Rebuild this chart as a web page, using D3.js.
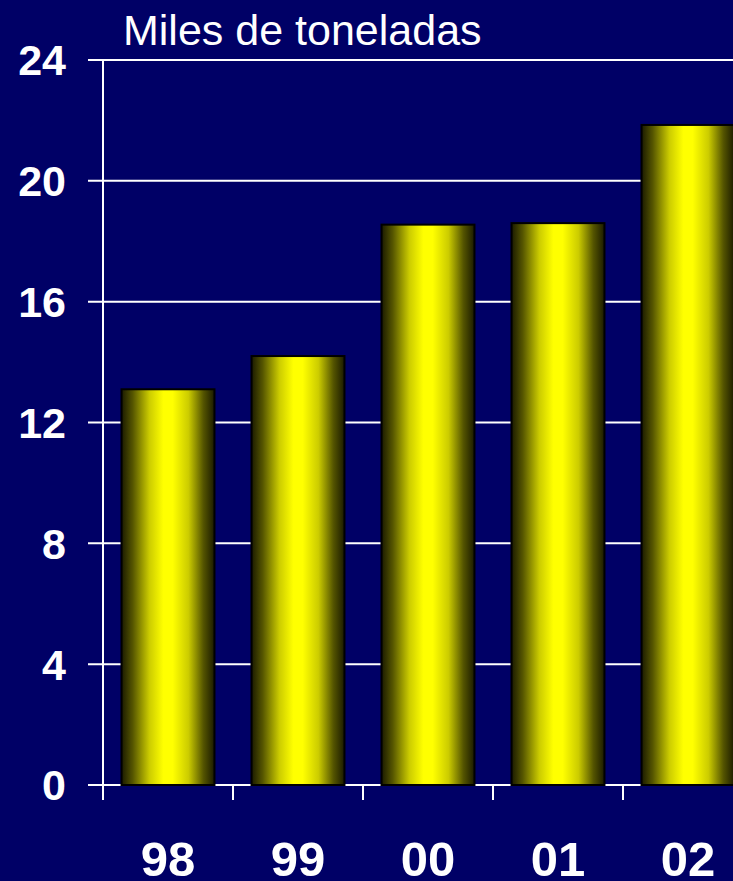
<!DOCTYPE html>
<html><head><meta charset="utf-8">
<script src="https://cdn.jsdelivr.net/npm/d3@7"></script>
<style>html,body{margin:0;padding:0;background:#000066;overflow:hidden}</style>
</head><body>
<script>
const categories = ["98","99","00","01","02"];
const values = [13.1, 14.2, 18.55, 18.6, 21.85];
const yTicks = [0,4,8,12,16,20,24];
const title = "Miles de toneladas";

const W = 733, H = 881;
const svg = d3.select("body").append("svg").attr("width", W).attr("height", H)
  .style("background", "#000066");

const x = d3.scaleBand().domain(categories).range([103, 753]).paddingInner(0.285).paddingOuter(0.1425);
const y = d3.scaleLinear().domain([0, 24]).range([785, 60]);

const defs = svg.append("defs");
const g = defs.append("linearGradient").attr("id","cyl").attr("x1","0").attr("x2","1").attr("y1","0").attr("y2","0");
[[0,"#1a1a00"],[0.12,"#555500"],[0.3,"#cccc00"],[0.45,"#ffff00"],[0.55,"#ffff00"],[0.72,"#cccc00"],[0.88,"#555500"],[1,"#1a1a00"]]
  .forEach(([o,c]) => g.append("stop").attr("offset", o).attr("stop-color", c));

// gridlines
svg.append("g").selectAll("line").data(yTicks).join("line")
  .attr("x1", 88).attr("x2", W).attr("y1", d => y(d)).attr("y2", d => y(d))
  .attr("stroke", "#ffffff").attr("stroke-width", 2);

// y-axis line
svg.append("line").attr("x1",103).attr("x2",103).attr("y1",y(24)).attr("y2",800)
  .attr("stroke","#ffffff").attr("stroke-width",2);

// x ticks
const step = x.step();
svg.append("g").selectAll("line").data(categories).join("line")
  .attr("x1", d => x(d) - step*x.paddingInner()/2).attr("x2", d => x(d) - step*x.paddingInner()/2)
  .attr("y1", y(0)).attr("y2", 800)
  .attr("stroke","#ffffff").attr("stroke-width",2);

// bars
svg.append("g").selectAll("rect").data(values).join("rect")
  .attr("x", (d,i) => x(categories[i]))
  .attr("width", x.bandwidth())
  .attr("y", d => y(d))
  .attr("height", d => y(0) - y(d))
  .attr("fill", "url(#cyl)")
  .attr("stroke", "#000000").attr("stroke-width", 2);

// y labels
svg.append("g").selectAll("text").data(yTicks).join("text")
  .attr("x", 66).attr("y", d => y(d)).attr("dy", "0.36em")
  .attr("text-anchor","end")
  .attr("font-family","Liberation Sans, Arial, sans-serif").attr("font-weight","bold")
  .attr("font-size", 43).attr("fill","#ffffff")
  .text(d => d);

// x labels
svg.append("g").selectAll("text").data(categories).join("text")
  .attr("x", d => x(d) + x.bandwidth()/2).attr("y", 876)
  .attr("text-anchor","middle")
  .attr("font-family","Liberation Sans, Arial, sans-serif").attr("font-weight","bold")
  .attr("font-size", 49).attr("fill","#ffffff")
  .text(d => d);

// title
svg.append("text").attr("x", 123).attr("y", 45)
  .attr("font-family","Liberation Sans, Arial, sans-serif")
  .attr("font-size", 43).attr("fill","#ffffff").text(title);
</script>
</body></html>
